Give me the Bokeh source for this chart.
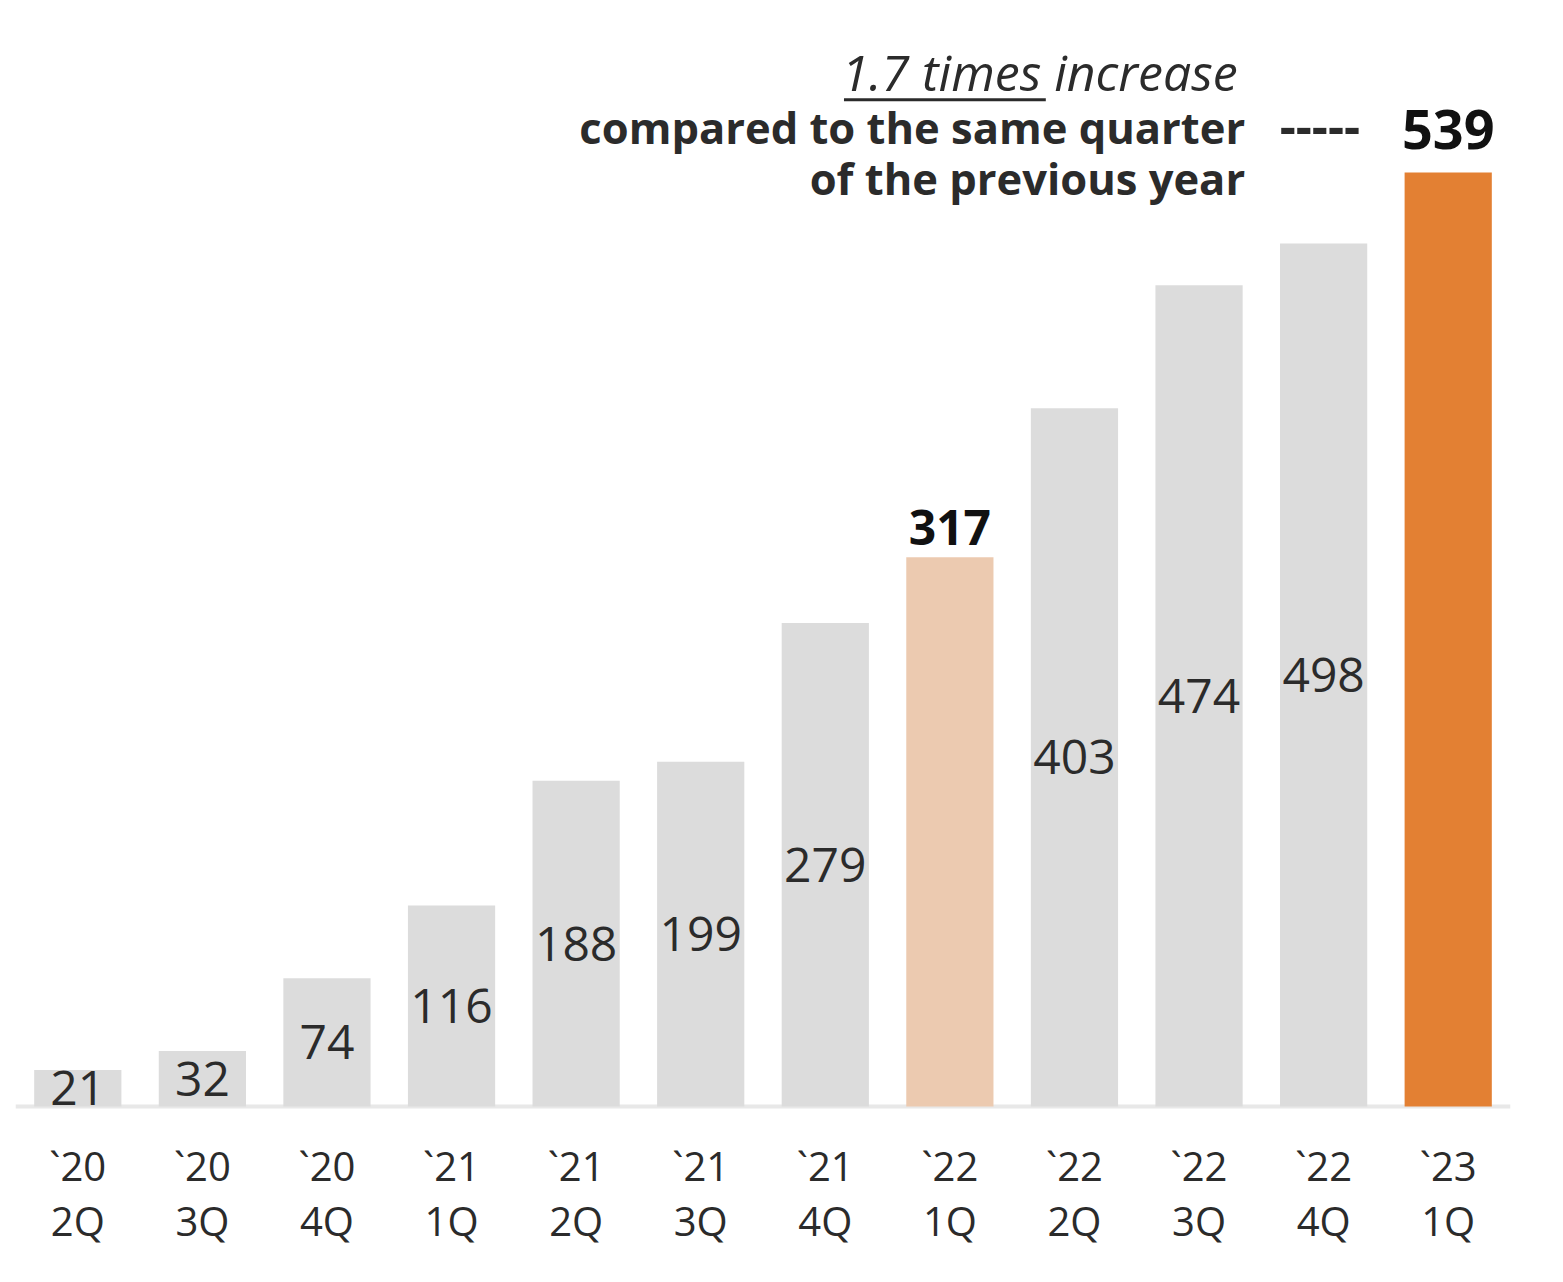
from bokeh.plotting import figure
from bokeh.models import ColumnDataSource, Range1d, Span
from bokeh.core.properties import value
from bokeh.embed import file_html
from bokeh.resources import INLINE

years = ["`20", "`20", "`20", "`21", "`21", "`21", "`21", "`22", "`22", "`22", "`22", "`23"]
quarters = ["2Q", "3Q", "4Q", "1Q", "2Q", "3Q", "4Q", "1Q", "2Q", "3Q", "4Q", "1Q"]
values = [21, 32, 74, 116, 188, 199, 279, 317, 403, 474, 498, 539]
bar_colors = ["#dcdcdc"] * 7 + ["#eccab0"] + ["#dcdcdc"] * 3 + ["#e38033"]
highlight_prev = 7
highlight_last = 11

xs = list(range(len(values)))

p = figure(width=1555, height=1274, output_backend="svg", toolbar_location=None,
           x_range=Range1d(-0.5, 11.5), y_range=Range1d(-96.95, 633.66),
           min_border_left=15, min_border_right=45, min_border_top=8, min_border_bottom=0)
p.axis.visible = False
p.grid.visible = False
p.outline_line_color = None
p.background_fill_color = "white"

p.add_layout(Span(location=0, dimension="width", line_color="#e8e8e8", line_width=4, level="underlay"))

src = ColumnDataSource(dict(x=xs, top=values, color=bar_colors,
                            year=years, quarter=quarters))

p.vbar(x="x", top="top", bottom=0, width=0.70, fill_color="color", line_color=None, source=src)

# inside labels (all except highlighted), centred at mid-bar
inner_idx = [i for i in xs if i not in (highlight_prev, highlight_last)]
inner = ColumnDataSource(dict(x=[xs[i] for i in inner_idx],
                              y=[values[i] / 2 for i in inner_idx],
                              t=[str(values[i]) for i in inner_idx]))
p.text(x="x", y="y", text="t", source=inner, text_align="center", text_baseline="middle",
       text_font=value("Open Sans"), text_font_size="48px", text_color="#2b2b2b")

# highlighted labels above bars
p.text(x=[xs[highlight_prev]], y=[values[highlight_prev] + 17], text=[str(values[highlight_prev])],
       text_align="center", text_baseline="middle", text_font=value("Open Sans"),
       text_font_style="bold", text_font_size="48px", text_color="#111111")
p.text(x=[xs[highlight_last]], y=[values[highlight_last] + 25], text=[str(values[highlight_last])],
       text_align="center", text_baseline="middle", text_font=value("Open Sans"),
       text_font_style="bold", text_font_size="54px", text_color="#111111")

# category labels
p.text(x="x", y=-34, text="year", source=src, text_align="center", text_baseline="middle",
       text_font=value("Open Sans"), text_font_size="40px", text_color="#2b2b2b")
p.text(x="x", y=-65.8, text="quarter", source=src, text_align="center", text_baseline="middle",
       text_font=value("Open Sans"), text_font_size="40px", text_color="#2b2b2b")

# annotation
ax = 9.37
p.text(x=[ax - 0.06], y=[597], text=["1.7 times increase"], text_align="right", text_baseline="middle",
       text_font=value("Open Sans"), text_font_style="italic", text_font_size="50px", text_color="#2b2b2b")
p.segment(x0=[6.15], y0=[581], x1=[7.77], y1=[581], line_color="#2b2b2b", line_width=3)
p.text(x=[ax], y=[565], text=["compared to the same quarter"], text_align="right", text_baseline="middle",
       text_font=value("Open Sans"), text_font_style="bold", text_font_size="43.5px", text_color="#2b2b2b")
p.text(x=[ax], y=[535.5], text=["of the previous year"], text_align="right", text_baseline="middle",
       text_font=value("Open Sans"), text_font_style="bold", text_font_size="43.5px", text_color="#2b2b2b")
p.text(x=[9.97], y=[566], text=["-----"], text_align="center", text_baseline="middle",
       text_font=value("Open Sans"), text_font_style="bold", text_font_size="50px", text_color="#2b2b2b")

open("out.html", "w").write(file_html(p, INLINE))
